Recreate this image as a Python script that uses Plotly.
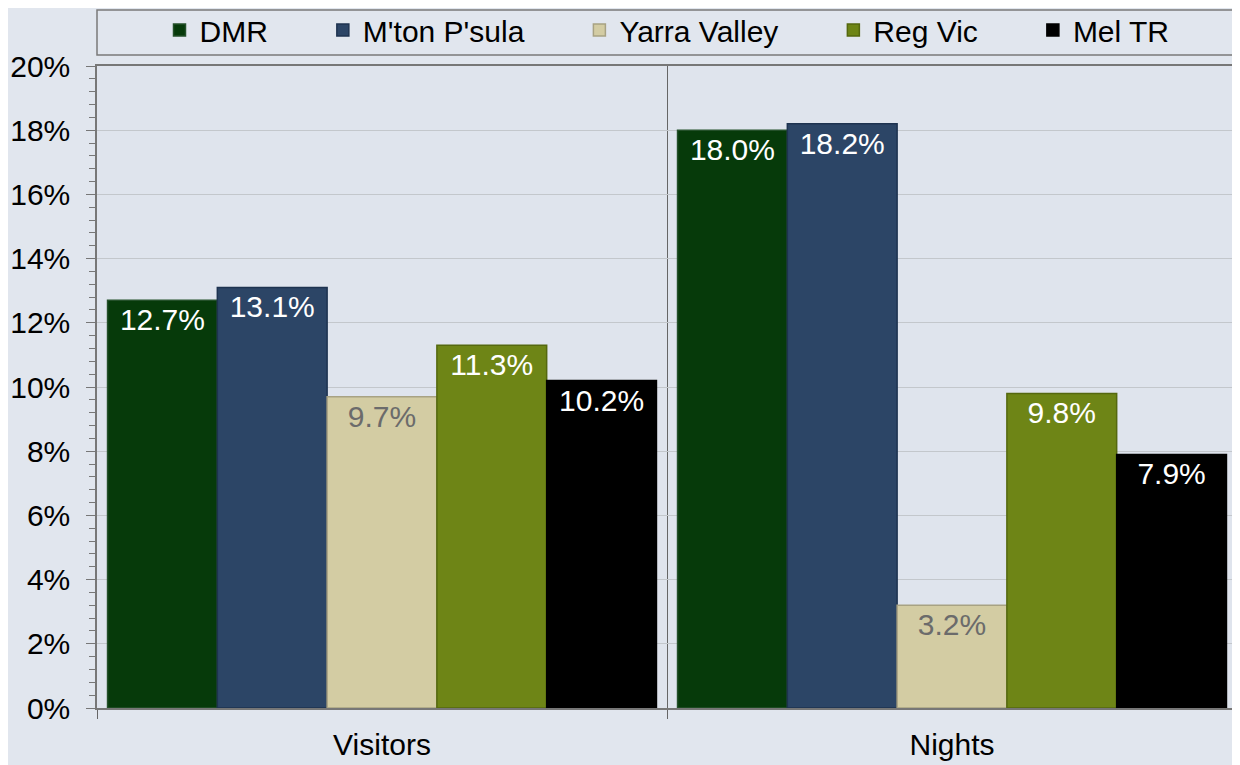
import plotly.graph_objects as go

categories = ["Visitors", "Nights"]
series_names = ["DMR", "M'ton P'sula", "Yarra Valley", "Reg Vic", "Mel TR"]
dmr = [0.127, 0.180]
mton = [0.131, 0.182]
yarra = [0.097, 0.032]
regvic = [0.113, 0.098]
meltr = [0.102, 0.079]
y_ticks = [0, 0.02, 0.04, 0.06, 0.08, 0.10, 0.12, 0.14, 0.16, 0.18, 0.20]

values = [dmr, mton, yarra, regvic, meltr]
colors = ["#063A0A", "#2C4566", "#D3CCA3", "#6E8516", "#000000"]
edge_colors = ["#24502A", "#1E3350", "#A8A283", "#55680F", "#000000"]
text_colors = ["white", "white", "#6B6B6B", "white", "white"]

FONT = "Liberation Sans, Arial, sans-serif"
PAD = "\u00a0" * 6

fig = go.Figure()
for i, (name, vals, c, ec, tc) in enumerate(zip(series_names, values, colors, edge_colors, text_colors)):
    label = name + (PAD if i < len(series_names) - 1 else "")
    fig.add_trace(go.Bar(
        name=label,
        x=categories,
        y=vals,
        marker=dict(color=c, line=dict(color=ec, width=1.5)),
        text=[f"{v*100:.1f}%" for v in vals],
        textposition="inside",
        insidetextanchor="end",
        textfont=dict(color=tc, size=30, family=FONT),
        constraintext="none",
        cliponaxis=False,
    ))

H = 757
PLOT_H = 642
# The page body adds an 8px offset; the figure is sized to fill the remaining area.
fig.update_layout(
    width=1232,
    height=H,
    margin=dict(l=89, r=3, t=58, b=57, autoexpand=False),
    paper_bgcolor="#E1E6EE",
    plot_bgcolor="#DFE4ED",
    barmode="group",
    bargap=0.037,
    bargroupgap=0,
    font=dict(family=FONT, size=30, color="#000000"),
    legend=dict(
        orientation="h",
        x=0.5, xanchor="center", xref="paper",
        y=1 - 22 / H, yanchor="middle", yref="container",
        font=dict(size=30, family=FONT),
        bgcolor="rgba(0,0,0,0)",
        borderwidth=0,
        itemwidth=30,
        tracegroupgap=0,
    ),
    showlegend=True,
)

# Legend box drawn as a rectangle spanning the plot width
fig.add_shape(type="rect", xref="paper", yref="paper",
              x0=0, x1=1.0, y0=1.0 + 11 / PLOT_H, y1=1.0 + 56 / PLOT_H,
              line=dict(color="#7A7A7A", width=1.5), fillcolor="rgba(0,0,0,0)", layer="below")

fig.update_yaxes(
    range=[0, 0.2],
    tickvals=y_ticks,
    tickformat=".0%",
    ticks="outside",
    ticklen=9,
    tickcolor="#777777",
    ticklabelstandoff=10,
    automargin=False,
    showline=True,
    linecolor="#777777",
    linewidth=1.5,
    mirror=True,
    showgrid=True,
    gridcolor="#C3C7CC",
    gridwidth=1,
    zeroline=False,
    tickfont=dict(size=30, family=FONT, color="#000000"),
    minor=dict(dtick=0.004, ticks="outside", ticklen=6, tickcolor="#777777", showgrid=False),
)
fig.update_xaxes(
    tickson="boundaries",
    ticks="outside",
    ticklen=9,
    tickcolor="#666666",
    ticklabelstandoff=9,
    automargin=False,
    showline=True,
    linecolor="#777777",
    linewidth=1.5,
    mirror=True,
    showgrid=True,
    gridcolor="#666666",
    gridwidth=1,
    tickfont=dict(size=30, family=FONT, color="#000000"),
)

fig.write_html("out.html")
